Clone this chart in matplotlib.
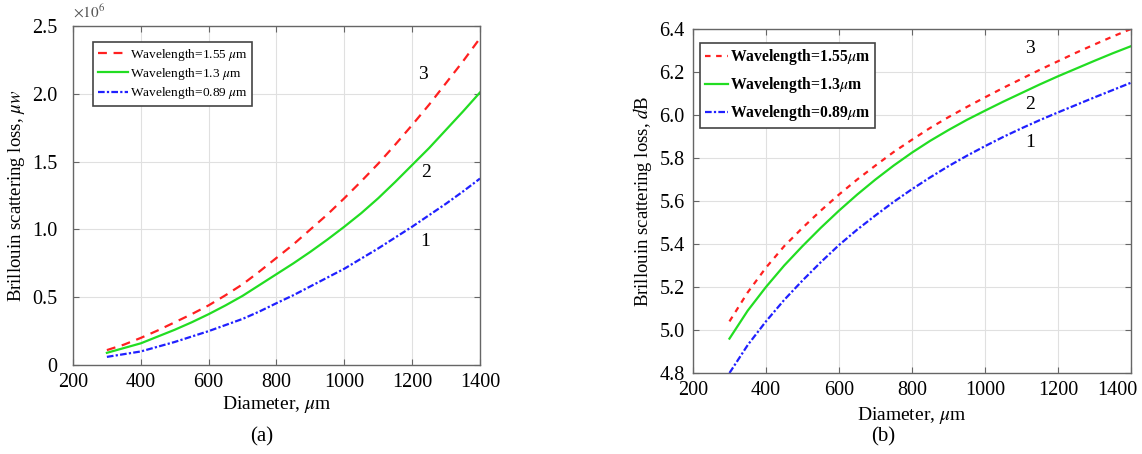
import numpy as np
import matplotlib
matplotlib.use('Agg')
import matplotlib.pyplot as plt
import matplotlib.transforms as mtransforms

plt.rcParams['font.family'] = ['Liberation Serif', 'DejaVu Serif']
plt.rcParams['mathtext.fontset'] = 'stix'

# diameter, um
diameter = [300, 350, 400, 450, 500, 550, 600, 650, 700, 750, 800, 850,
            900, 950, 1000, 1050, 1100, 1150, 1200, 1250, 1300, 1350, 1400]

# panel (a): loss in uW (x1e6)
loss_a_155 = [0.11, 0.15, 0.20, 0.255, 0.315, 0.375, 0.44, 0.515, 0.595, 0.69, 0.79, 0.89,
              1.00, 1.11, 1.23, 1.355, 1.485, 1.625, 1.77, 1.92, 2.08, 2.24, 2.41]
loss_a_13 = [0.09, 0.125, 0.16, 0.21, 0.26, 0.315, 0.375, 0.44, 0.51, 0.59, 0.67, 0.75,
             0.835, 0.925, 1.02, 1.12, 1.23, 1.35, 1.475, 1.60, 1.735, 1.87, 2.01]
loss_a_089 = [0.06, 0.08, 0.10, 0.135, 0.17, 0.21, 0.25, 0.295, 0.34, 0.395, 0.456, 0.515,
              0.58, 0.645, 0.71, 0.785, 0.86, 0.94, 1.02, 1.105, 1.19, 1.28, 1.375]

# panel (b): loss in dB
loss_b_155 = [5.04, 5.175, 5.29, 5.39, 5.475, 5.555, 5.63, 5.70, 5.765, 5.828, 5.885, 5.94,
              5.99, 6.037, 6.082, 6.126, 6.168, 6.21, 6.25, 6.29, 6.328, 6.365, 6.40]
loss_b_13 = [4.96, 5.09, 5.20, 5.30, 5.39, 5.475, 5.555, 5.63, 5.70, 5.765, 5.825, 5.88,
             5.93, 5.977, 6.02, 6.062, 6.102, 6.142, 6.18, 6.216, 6.252, 6.287, 6.32]
loss_b_089 = [4.80, 4.93, 5.04, 5.14, 5.23, 5.315, 5.395, 5.467, 5.533, 5.596, 5.655, 5.71,
              5.762, 5.81, 5.855, 5.898, 5.938, 5.976, 6.012, 6.047, 6.082, 6.116, 6.15]

x_ticks = [200, 400, 600, 800, 1000, 1200, 1400]

fig = plt.figure(figsize=(11.42, 4.54), dpi=100)
ax1 = fig.add_axes([0.0639, 0.196, 0.3564, 0.7467])
ax2 = fig.add_axes([0.6068, 0.1784, 0.3835, 0.7577])

def style(ax):
    ax.grid(True, color='#e0e0e0', lw=0.8)
    ax.set_axisbelow(True)
    for s in ax.spines.values():
        s.set_color('#666666')
        s.set_linewidth(1.0)
    ax.tick_params(direction='in', length=4, color='#666666', top=True, right=True,
                   labelsize=14.5, pad=6)

# (a)
ax1.plot(diameter, np.array(loss_a_155) * 1e6, color='#ff2020', ls=(0, (4, 3)), lw=1.6,
         label=r'Wavelength=1.55 $\mu$m')
ax1.plot(diameter, np.array(loss_a_13) * 1e6, color='#22dd22', ls='-', lw=1.6,
         label=r'Wavelength=1.3 $\mu$m')
ax1.plot(diameter, np.array(loss_a_089) * 1e6, color='#2020ff', ls=(0, (3, 1, 1, 1)), lw=1.6,
         label=r'Wavelength=0.89 $\mu$m')
ax1.set_xlim(200, 1400)
ax1.set_ylim(0, 2.5e6)
ax1.set_xticks(x_ticks)
ax1.set_yticks([0, 0.5e6, 1.0e6, 1.5e6, 2.0e6, 2.5e6])
ax1.set_yticklabels(['0', '0.5', '1.0', '1.5', '2.0', '2.5'])
style(ax1)
ax1.tick_params(axis='y', pad=11)
ax1.text(0.0, 1.015, r'$\times10^6$', transform=ax1.transAxes, fontsize=11,
         color='#555555', family='DejaVu Sans', va='bottom')
ax1.set_xlabel(r'Diameter, $\mu$m', fontsize=14, labelpad=1)
ax1.set_ylabel(r'Brillouin scattering loss, $\mu w$', fontsize=13.5, labelpad=4)
leg = ax1.legend(loc='upper left', bbox_to_anchor=(0.049, 0.953), borderaxespad=0,
                 fontsize=9.6, handlelength=2.3, handletextpad=0.1, borderpad=0.35,
                 labelspacing=0.25, fancybox=False, framealpha=1, edgecolor='#444444')
leg.get_frame().set_linewidth(1.2)
ax1.text(1232, 2.14e6, '3', fontsize=14, ha='center', va='center')
ax1.text(1240, 1.42e6, '2', fontsize=14, ha='center', va='center')
ax1.text(1238, 0.91e6, '1', fontsize=14, ha='center', va='center')
fig.text(262 / 1142, 1 - 437 / 454, '(a)', fontsize=15, ha='center', va='center')

# (b)
ax2.plot(diameter, loss_b_155, color='#ff2020', ls=(0, (2.5, 2.5)), lw=1.6,
         label=r'Wavelength=1.55$\mu$m')
ax2.plot(diameter, loss_b_13, color='#22dd22', ls='-', lw=1.6,
         label=r'Wavelength=1.3$\mu$m')
ax2.plot(diameter, loss_b_089, color='#2020ff', ls=(0, (3, 1, 1, 1)), lw=1.6,
         label=r'Wavelength=0.89$\mu$m')
ax2.set_xlim(200, 1400)
ax2.set_ylim(4.8, 6.4)
ax2.set_xticks(x_ticks)
ax2.set_yticks([4.8, 5.0, 5.2, 5.4, 5.6, 5.8, 6.0, 6.2, 6.4])
ax2.set_yticklabels(['4.8', '5.0', '5.2', '5.4', '5.6', '5.8', '6.0', '6.2', '6.4'])
style(ax2)
ax2.tick_params(axis='x', pad=6)
# last x label sits a little left of its tick in the reference
shift = mtransforms.ScaledTranslation(-0.14, 0, fig.dpi_scale_trans)
lbl = ax2.get_xticklabels()[-1]
lbl.set_transform(lbl.get_transform() + shift)
ax2.set_xlabel(r'Diameter, $\mu$m', fontsize=14, labelpad=3)
ax2.set_ylabel(r'Brillouin scattering loss, $d$B', fontsize=13.5, labelpad=4)
leg2 = ax2.legend(loc='upper left', bbox_to_anchor=(0.016, 0.96), borderaxespad=0,
                  prop={'size': 11.3, 'weight': 'bold'},
                  handlelength=1.5, handletextpad=0.1, borderpad=0.3, labelspacing=0.5,
                  fancybox=False, framealpha=1, edgecolor='#444444')
leg2.get_frame().set_linewidth(1.2)
ax2.text(1123, 6.31, '3', fontsize=14, ha='center', va='center')
ax2.text(1123, 6.05, '2', fontsize=14, ha='center', va='center')
ax2.text(1123, 5.87, '1', fontsize=14, ha='center', va='center')
fig.text(883 / 1142, 1 - 437 / 454, '(b)', fontsize=15, ha='center', va='center')

fig.savefig('out.png', dpi=100)
